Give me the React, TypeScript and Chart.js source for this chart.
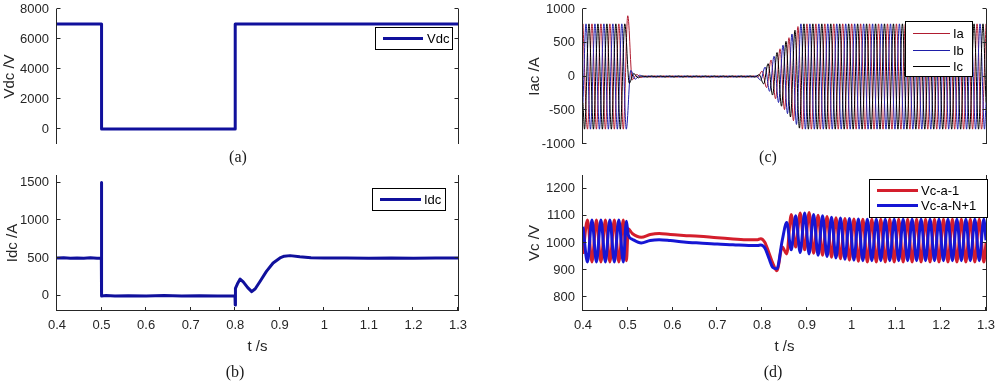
import React, { useEffect, useRef } from 'react';
import { Chart, registerables } from 'chart.js';

Chart.register(...registerables);

// ---------------- data ----------------
const X_TICKS = [0.4, 0.5, 0.6, 0.7, 0.8, 0.9, 1.0, 1.1, 1.2, 1.3];
const X_TICK_LABELS = ['0.4', '0.5', '0.6', '0.7', '0.8', '0.9', '1', '1.1', '1.2', '1.3'];
const VDC_TICKS = [0, 2000, 4000, 6000, 8000];
const IDC_TICKS = [0, 500, 1000, 1500];
const IAC_TICKS = [-1000, -500, 0, 500, 1000];
const VC_TICKS = [800, 900, 1000, 1100, 1200];

// (a) DC voltage
const vdcT = [0.4, 0.5, 0.5, 0.8, 0.8, 1.3];
const vdcV = [7000, 7000, 0, 0, 7000, 7000];

// (b) DC current
const idcT = [
  0.400, 0.415, 0.430, 0.445, 0.460, 0.475, 0.490,
  0.4995, 0.4998, 0.5002,
  0.510, 0.530, 0.560, 0.600, 0.640, 0.680, 0.720, 0.760,
  0.7995, 0.8000, 0.8005, 0.8050, 0.8110, 0.8180, 0.8280, 0.8370, 0.8450, 0.8556, 0.8700, 0.8850,
  0.9005, 0.9100, 0.9230, 0.9450, 0.9700,
  1.000, 1.050, 1.100, 1.150, 1.200, 1.250, 1.300,
];
const idcV = [
  500, 505, 497, 503, 498, 504, 499,
  500, 1500, 0,
  4, -3, 3, -2, 4, -3, 3, -2,
  0, -120, 100, 160, 222, 185, 110, 57, 95, 191, 324, 435,
  502, 525, 533, 518, 505,
  500, 503, 498, 502, 499, 501, 500,
];

// (c) AC currents: successive half-cycle extremes of each phase (50 Hz)
const IAC_STEP = 0.01;
const IA_T0 = 0.4;
const IB_T0 = 0.40667;
const IC_T0 = 0.40333;
const IAC_EDGE_T = [0.4, 1.3];
const IB_EDGE_V = [-390, -390];
const IC_EDGE_V = [-390, -390];
const iaPeaks = [
  780, -780, 780, -780, 780, -780, 780, -780, 780, -780, 900,
  -50, 30, -15,
  10, -10, 10, -10, 10, -10, 10, -10, 10, -10, 10, -10, 10,
  -10, 10, -10, 10, -10, 10, -10, 10, -10, 10, -10, 10, -10,
  80, -165, 245, -330, 410, -490, 575, -655, 740, -780,
  780, -780, 780, -780, 780, -780, 780, -780, 780, -780,
  780, -780, 780, -780, 780, -780, 780, -780, 780, -780,
  780, -780, 780, -780, 780, -780, 780, -780, 780, -780,
  780, -780, 780, -780, 780, -780, 780, -780, 780, -780,
  780,
];
const ibPeaks = [
  780, -780, 780, -780, 780, -780, 780, -780, 780, -780,
  90, -40, 20,
  -10, 10, -10, 10, -10, 10, -10, 10, -10, 10, -10, 10, -10,
  10, -10, 10, -10, 10, -10, 10, -10, 10, -10, 10, -10, 10,
  -55, 140, -220, 300, -385, 465, -550, 630, -710, 780,
  -780, 780, -780, 780, -780, 780, -780, 780, -780, 780,
  -780, 780, -780, 780, -780, 780, -780, 780, -780, 780,
  -780, 780, -780, 780, -780, 780, -780, 780, -780, 780,
  -780, 780, -780, 780, -780, 780, -780, 780, -780, 780,
  -780,
];
const icPeaks = [
  -780, 780, -780, 780, -780, 780, -780, 780, -780, 780,
  -100, 45, -20,
  10, -10, 10, -10, 10, -10, 10, -10, 10, -10, 10, -10, 10,
  -10, 10, -10, 10, -10, 10, -10, 10, -10, 10, -10, 10, -10,
  27, -110, 190, -275, 355, -440, 520, -600, 685, -765,
  780, -780, 780, -780, 780, -780, 780, -780, 780, -780,
  780, -780, 780, -780, 780, -780, 780, -780, 780, -780,
  780, -780, 780, -780, 780, -780, 780, -780, 780, -780,
  780, -780, 780, -780, 780, -780, 780, -780, 780, -780,
  780,
];

// (d) capacitor voltages
const vcT = [
  0.400, 0.410, 0.420, 0.430, 0.440, 0.450, 0.460, 0.470, 0.480, 0.490, 0.497, 0.501,
  0.510, 0.530, 0.550, 0.570, 0.595, 0.625, 0.660, 0.700, 0.735, 0.770, 0.790, 0.797, 0.806, 0.815, 0.824, 0.833, 0.845, 0.855,
  0.865, 0.875, 0.885, 0.895, 0.905, 0.915, 0.925, 0.935, 0.945, 0.955, 0.965, 0.975, 0.985, 0.995, 1.005, 1.015,
  1.025, 1.035, 1.045, 1.055, 1.065, 1.075, 1.085, 1.095, 1.105, 1.115, 1.125, 1.135, 1.145, 1.155,
  1.165, 1.175, 1.185, 1.195, 1.205, 1.215, 1.225, 1.235, 1.245, 1.255, 1.265, 1.275, 1.285, 1.295,
  1.300,
];
const vcA1 = [
  960, 1085, 930, 1085, 930, 1085, 930, 1085, 930, 1085, 935, 1052,
  1035, 1021, 1031, 1035, 1031, 1028, 1025, 1019, 1015, 1012, 1012, 1016, 1003, 965, 925, 898, 985, 960,
  1105, 985, 1110, 975, 1112, 962, 1102, 955, 1097, 948, 1093, 942, 1090, 937, 1088, 933,
  1087, 930, 1087, 930, 1087, 930, 1087, 930, 1087, 930, 1087, 930, 1087, 930,
  1087, 930, 1087, 930, 1087, 930, 1087, 930, 1087, 930, 1087, 930, 1087, 930,
  1000,
];
const vcAN1 = [
  1060, 930, 1085, 930, 1085, 930, 1085, 930, 1085, 930, 1080, 1030,
  1014, 1000, 1009, 1012, 1009, 1004, 1000, 996, 994, 991, 991, 993, 982, 945, 910, 905, 1010, 1075,
  975, 1100, 965, 1110, 960, 1105, 955, 1100, 950, 1095, 945, 1092, 940, 1090, 937, 1088,
  935, 1087, 935, 1087, 935, 1087, 935, 1087, 935, 1087, 935, 1087, 935, 1087,
  935, 1087, 935, 1087, 935, 1087, 935, 1087, 935, 1087, 935, 1087, 935, 1087,
  1010,
];

// ---------------- helpers ----------------
const FONT = 'Liberation Sans, Arial, Helvetica, sans-serif';
const TEXT_COLOR = '#262626';
const AXIS_COLOR = '#262626';
const TICK_LEN = 4;

const pts = (t: number[], v: number[]) => t.map((x, i) => ({ x, y: v[i] }));
const peakPts = (t0: number, step: number, v: number[]) => v.map((y, k) => ({ x: t0 + step * k, y }));
const withEdges = (t0: number, v: number[], edgeV: number[]) => [
  { x: IAC_EDGE_T[0], y: edgeV[0] },
  ...peakPts(t0, IAC_STEP, v),
  { x: IAC_EDGE_T[1], y: edgeV[1] },
];

type Row = { label: string; color: string; width: number; y: number };
type LegendSpec = { x: number; y: number; w: number; h: number; x1: number; x2: number; tx: number; rows: Row[] };

function makeFramePlugin(showBottom: boolean, legend: LegendSpec) {
  return {
    id: 'frameLegend',
    afterDatasetsDraw(chart: any) {
      const { ctx, chartArea: a } = chart;
      const xs = chart.scales.x;
      const ys = chart.scales.y;
      const L = a.left - 0.5;
      const R = a.right + 0.5;
      const T = a.top;
      const B = a.bottom;
      ctx.save();
      ctx.strokeStyle = AXIS_COLOR;
      ctx.lineWidth = 1;
      ctx.beginPath();
      ctx.moveTo(L, T);
      ctx.lineTo(L, B);
      ctx.moveTo(R, T);
      ctx.lineTo(R, B);
      if (showBottom) {
        ctx.moveTo(L, B - 0.5);
        ctx.lineTo(R, B - 0.5);
      }
      for (const t of ys.ticks) {
        const py = Math.round(ys.getPixelForValue(t.value)) - 0.5;
        ctx.moveTo(L, py);
        ctx.lineTo(L + TICK_LEN, py);
        ctx.moveTo(R, py);
        ctx.lineTo(R - TICK_LEN, py);
      }
      if (showBottom) {
        for (const t of xs.ticks) {
          const px = Math.round(xs.getPixelForValue(t.value)) - 0.5;
          ctx.moveTo(px, B);
          ctx.lineTo(px, B - TICK_LEN);
        }
      }
      ctx.stroke();

      // legend box
      ctx.fillStyle = '#ffffff';
      ctx.fillRect(legend.x, legend.y, legend.w, legend.h);
      ctx.strokeStyle = '#000000';
      ctx.lineWidth = 1;
      ctx.strokeRect(legend.x + 0.5, legend.y + 0.5, legend.w, legend.h);
      ctx.font = `13px ${FONT}`;
      ctx.textBaseline = 'middle';
      ctx.textAlign = 'left';
      for (const r of legend.rows) {
        ctx.beginPath();
        ctx.strokeStyle = r.color;
        ctx.lineWidth = r.width;
        ctx.moveTo(legend.x1, r.y);
        ctx.lineTo(legend.x2, r.y);
        ctx.stroke();
        ctx.fillStyle = '#000000';
        ctx.fillText(r.label, legend.tx, r.y + 0.5);
      }
      ctx.restore();
    },
  };
}

type PanelSpec = {
  key: string;
  left: number;
  top: number;
  width: number;
  height: number;
  yTitle: string;
  yMin: number;
  yMax: number;
  yTicks: number[];
  yWidth: number;
  yTitlePad: number;
  pad: { top: number; right: number; bottom: number };
  showX: boolean;
  datasets: any[];
  legend: LegendSpec;
};

const BLUE_DC = '#10109c';
const IA_COLOR = '#b01c30';
const IB_COLOR = '#1e1ea8';
const IC_COLOR = '#000000';
const VC1_COLOR = '#d41e2c';
const VCN_COLOR = '#1616d4';

const lineDs = (label: string, data: any[], color: string, width: number, order: number, smooth = false) => ({
  label,
  data,
  borderColor: color,
  backgroundColor: color,
  borderWidth: width,
  pointRadius: 0,
  fill: false,
  tension: 0,
  cubicInterpolationMode: smooth ? 'monotone' : 'default',
  order,
  borderJoinStyle: 'round',
  borderCapStyle: 'butt',
});

const PANELS: PanelSpec[] = [
  {
    key: 'a', left: 0, top: 0, width: 498, height: 160,
    yTitle: 'Vdc /V', yMin: -1000, yMax: 8000, yTicks: VDC_TICKS, yWidth: 57, yTitlePad: 0.5,
    pad: { top: 9, right: 40, bottom: 16 }, showX: false,
    datasets: [lineDs('Vdc', pts(vdcT, vdcV), BLUE_DC, 3, 0)],
    legend: { x: 375, y: 27, w: 77, h: 22, x1: 383, x2: 423, tx: 427, rows: [{ label: 'Vdc', color: BLUE_DC, width: 3, y: 38.5 }] },
  },
  {
    key: 'b', left: 0, top: 165, width: 498, height: 216,
    yTitle: 'Idc /A', yMin: -200, yMax: 1600, yTicks: IDC_TICKS, yWidth: 57, yTitlePad: 4,
    pad: { top: 10, right: 40, bottom: 0 }, showX: true,
    datasets: [lineDs('Idc', pts(idcT, idcV), BLUE_DC, 3, 0)],
    legend: { x: 372, y: 23, w: 73, h: 22, x1: 380, x2: 421, tx: 424, rows: [{ label: 'Idc', color: BLUE_DC, width: 3, y: 34.5 }] },
  },
  {
    key: 'c', left: 500, top: 0, width: 496, height: 160,
    yTitle: 'Iac /A', yMin: -1000, yMax: 1000, yTicks: IAC_TICKS, yWidth: 83, yTitlePad: 25.5,
    pad: { top: 9, right: 10, bottom: 16 }, showX: false,
    datasets: [
      lineDs('Ia', peakPts(IA_T0, IAC_STEP, iaPeaks), IA_COLOR, 1, 2, true),
      lineDs('Ib', withEdges(IB_T0, ibPeaks, IB_EDGE_V), IB_COLOR, 1, 1, true),
      lineDs('Ic', withEdges(IC_T0, icPeaks, IC_EDGE_V), IC_COLOR, 1, 0, true),
    ],
    legend: {
      x: 405, y: 21, w: 67, h: 55, x1: 413, x2: 450, tx: 453,
      rows: [
        { label: 'Ia', color: IA_COLOR, width: 1, y: 33.5 },
        { label: 'Ib', color: IB_COLOR, width: 1, y: 50.5 },
        { label: 'Ic', color: IC_COLOR, width: 1, y: 66.5 },
      ],
    },
  },
  {
    key: 'd', left: 500, top: 165, width: 496, height: 216,
    yTitle: 'Vc /V', yMin: 750, yMax: 1250, yTicks: VC_TICKS, yWidth: 83, yTitlePad: 26,
    pad: { top: 10, right: 10, bottom: 0 }, showX: true,
    datasets: [
      lineDs('Vc-a-1', pts(vcT, vcA1), VC1_COLOR, 3, 1, true),
      lineDs('Vc-a-N+1', pts(vcT, vcAN1), VCN_COLOR, 3, 0, true),
    ],
    legend: {
      x: 369, y: 14, w: 118, h: 38, x1: 377, x2: 418, tx: 421,
      rows: [
        { label: 'Vc-a-1', color: VC1_COLOR, width: 3, y: 25.5 },
        { label: 'Vc-a-N+1', color: VCN_COLOR, width: 3, y: 40.5 },
      ],
    },
  },
];

function buildConfig(p: PanelSpec): any {
  return {
    type: 'line',
    data: { datasets: p.datasets },
    plugins: [makeFramePlugin(p.showX, p.legend)],
    options: {
      responsive: false,
      animation: false,
      events: [],
      devicePixelRatio: 1,
      layout: { padding: { top: p.pad.top, right: p.pad.right, bottom: p.pad.bottom, left: 0 } },
      plugins: { legend: { display: false }, tooltip: { enabled: false } },
      scales: {
        x: {
          type: 'linear',
          min: 0.4,
          max: 1.3,
          display: p.showX,
          afterBuildTicks: (s: any) => { s.ticks = X_TICKS.map((v) => ({ value: v })); },
          afterFit: (s: any) => { s.height = p.showX ? 70 : 0; s.paddingLeft = 0; s.paddingRight = 0; },
          grid: { display: false, drawTicks: false },
          border: { display: false },
          ticks: {
            padding: 7,
            maxRotation: 0,
            autoSkip: false,
            color: TEXT_COLOR,
            font: { family: FONT, size: 13 },
            callback: (_v: any, i: number) => X_TICK_LABELS[i],
          },
          title: {
            display: p.showX,
            text: 't /s',
            color: TEXT_COLOR,
            font: { family: FONT, size: 15 },
            padding: { top: 0, bottom: 25 },
          },
        },
        y: {
          type: 'linear',
          min: p.yMin,
          max: p.yMax,
          afterBuildTicks: (s: any) => { s.ticks = p.yTicks.map((v) => ({ value: v })); },
          afterFit: (s: any) => { s.width = p.yWidth; s.paddingTop = 0; s.paddingBottom = 0; },
          grid: { display: false, drawTicks: false },
          border: { display: false },
          ticks: {
            padding: 8,
            color: TEXT_COLOR,
            font: { family: FONT, size: 13 },
            callback: (v: any) => String(v),
          },
          title: {
            display: true,
            text: p.yTitle,
            color: TEXT_COLOR,
            font: { family: FONT, size: 15 },
            padding: { top: p.yTitlePad, bottom: 0 },
          },
        },
      },
    },
  };
}

function Panel({ spec }: { spec: PanelSpec }) {
  const ref = useRef<HTMLCanvasElement | null>(null);
  useEffect(() => {
    if (!ref.current) return;
    const chart = new Chart(ref.current, buildConfig(spec));
    return () => chart.destroy();
  }, [spec]);
  return (
    <canvas
      ref={ref}
      width={spec.width}
      height={spec.height}
      style={{ position: 'absolute', left: spec.left, top: spec.top, width: spec.width, height: spec.height }}
    />
  );
}

const CAPTIONS = [
  { text: '(a)', x: 238, y: 157 },
  { text: '(b)', x: 235, y: 372 },
  { text: '(c)', x: 768, y: 157 },
  { text: '(d)', x: 773, y: 372 },
];

export default function App() {
  return (
    <div style={{ position: 'fixed', left: 0, top: 0, width: 996, height: 381, background: '#ffffff', overflow: 'hidden' }}>
      {PANELS.map((p) => (
        <Panel key={p.key} spec={p} />
      ))}
      {CAPTIONS.map((c) => (
        <div
          key={c.text}
          style={{
            position: 'absolute',
            left: c.x,
            top: c.y,
            transform: 'translate(-50%, -50%)',
            fontFamily: 'Liberation Serif, Times New Roman, serif',
            fontSize: 16,
            lineHeight: '16px',
            color: '#1a1a1a',
            whiteSpace: 'nowrap',
          }}
        >
          {c.text}
        </div>
      ))}
    </div>
  );
}
